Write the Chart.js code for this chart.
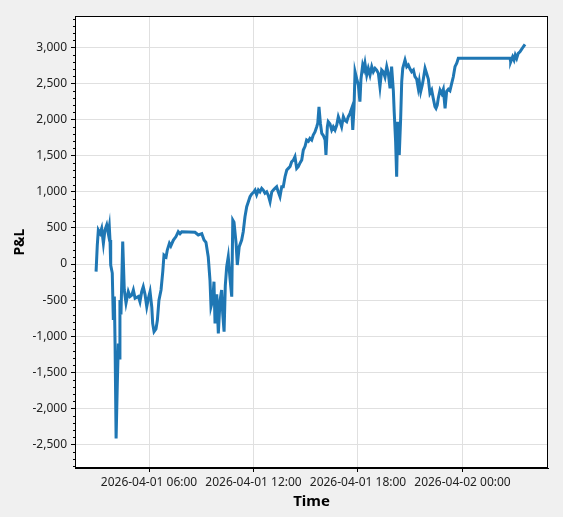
<!DOCTYPE html>
<html>
<head>
<meta charset="utf-8">
<script src="https://cdn.jsdelivr.net/npm/chart.js@4/dist/chart.umd.min.js"></script>
<style>
  html, body { margin: 0; padding: 0; background: #f0f0f0; }
  canvas { display: block; }
</style>
</head>
<body>
<canvas id="pnl-chart" width="563" height="517"></canvas>
<script>
// hours since 2026-04-01 00:00
const timeHours = [
  2.96, 3.03, 3.09, 3.19, 3.28, 3.38, 3.47, 3.57, 3.66, 3.72, 3.76, 3.80, 3.89, 3.95, 4.01, 4.05, 4.11, 4.18, 4.24, 4.29,
  4.33, 4.39, 4.49, 4.58, 4.68, 4.81, 4.91, 5.01, 5.10, 5.20, 5.39, 5.48, 5.58, 5.67, 5.77, 5.87, 5.96, 6.06, 6.16, 6.21,
  6.29, 6.40, 6.48, 6.57, 6.69, 6.79, 6.86, 6.98, 7.05, 7.17, 7.25, 7.40, 7.55, 7.68, 7.78, 7.88, 8.64, 8.83, 9.03, 9.16,
  9.27, 9.40, 9.50, 9.56, 9.66, 9.73, 9.79, 9.89, 9.98, 10.08, 10.17, 10.23, 10.31, 10.38, 10.46, 10.55, 10.65, 10.75, 10.81, 10.88,
  11.00, 11.07, 11.18, 11.32, 11.41, 11.51, 11.61, 11.70, 11.80, 11.90, 11.99, 12.09, 12.18, 12.28, 12.37, 12.47, 12.56, 12.66, 12.76, 12.85,
  12.95, 13.05, 13.14, 13.23, 13.33, 13.42, 13.52, 13.62, 13.71, 13.81, 13.91, 14.00, 14.10, 14.19, 14.29, 14.38, 14.48, 14.57, 14.67, 14.77,
  14.86, 14.96, 15.05, 15.15, 15.24, 15.34, 15.43, 15.53, 15.63, 15.69, 15.76, 15.84, 15.92, 16.01, 16.11, 16.16, 16.24, 16.29, 16.39, 16.49,
  16.58, 16.68, 16.78, 16.87, 16.97, 17.06, 17.16, 17.25, 17.35, 17.44, 17.54, 17.64, 17.70, 17.77, 17.83, 17.93, 18.02, 18.11, 18.17, 18.27,
  18.34, 18.40, 18.50, 18.59, 18.69, 18.79, 18.88, 18.98, 19.07, 19.17, 19.26, 19.36, 19.45, 19.55, 19.65, 19.74, 19.84, 19.93, 20.03, 20.08,
  20.16, 20.22, 20.28, 20.37, 20.45, 20.51, 20.57, 20.70, 20.80, 20.89, 20.99, 21.08, 21.18, 21.27, 21.37, 21.46, 21.52, 21.60, 21.69, 21.75,
  21.85, 21.94, 22.04, 22.13, 22.23, 22.32, 22.42, 22.48, 22.55, 22.61, 22.71, 22.81, 22.90, 23.00, 23.09, 23.19, 23.28, 23.38, 23.47, 23.57,
  23.67, 23.76, 26.73, 26.77, 26.88, 26.96, 27.03, 27.11, 27.20, 27.30, 27.40, 27.49, 27.59
];
const pnl = [
  -106, 263, 470, 425, 494, 286, 470, 540, 425, 517, 332, -14, -125, -775, -450, -1100, -2415, -1650, -1100, -1300,
  -500, -700, 310, -360, -540, -383, -450, -430, -360, -475, -450, -522, -383, -314, -420, -591, -480, -383, -600, -822,
  -937, -900, -780, -500, -360, -106, 125, 100, 194, 286, 250, 332, 380, 448, 420, 448, 440, 402, 420, 332,
  300, 101, -222, -591, -500, -245, -822, -420, -960, -500, -360, -680, -937, -300, -37, 100, -200, -453, 610, 580,
  286, -14, 240, 332, 448, 655, 794, 860, 932, 970, 990, 1025, 960, 1025, 1000, 1048, 1025, 980, 1000, 950,
  863, 1000, 1025, 1048, 1071, 1000, 932, 1071, 1071, 1209, 1302, 1325, 1350, 1417, 1440, 1486, 1325, 1350, 1400, 1440,
  1579, 1630, 1717, 1700, 1740, 1717, 1787, 1830, 1902, 1950, 2178, 1950, 1810, 1780, 1720, 1510, 1900, 1971, 1940, 1856,
  1900, 1856, 1925, 2040, 1971, 1902, 2040, 1990, 1970, 2040, 2087, 2156, 1856, 2156, 2663, 2560, 2479, 2248, 2560, 2756,
  2700, 2780, 2618, 2710, 2618, 2733, 2663, 2710, 2687, 2640, 2456, 2687, 2663, 2590, 2733, 2640, 2433, 2733, 2400, 2100,
  1694, 1209, 1971, 1510, 2018, 2525, 2710, 2825, 2733, 2756, 2700, 2663, 2687, 2594, 2560, 2433, 2525, 2387, 2480, 2560,
  2710, 2640, 2560, 2364, 2410, 2295, 2179, 2156, 2200, 2295, 2410, 2360, 2420, 2156, 2390, 2420, 2400, 2502, 2590, 2733,
  2780, 2849, 2849, 2800, 2870, 2825, 2895, 2849, 2918, 2940, 2975, 3009, 3043
];
const xTickHours = [6, 12, 18, 24];
const xTickLabels = ['2026-04-01 06:00', '2026-04-01 12:00', '2026-04-01 18:00', '2026-04-02 00:00'];
const yTickValues = [-2500, -2000, -1500, -1000, -500, 0, 500, 1000, 1500, 2000, 2500, 3000];

// 繪圖區外框、白底與 y 軸小刻度
const framePlugin = {
  id: 'frame',
  beforeDraw(chart) {
    const a = chart.chartArea, c = chart.ctx;
    c.save();
    c.fillStyle = '#ffffff';
    c.fillRect(a.left, a.top, a.right - a.left, a.bottom - a.top);
    c.restore();
  },
  afterDraw(chart) {
    const a = chart.chartArea, c = chart.ctx, y = chart.scales.y;
    c.save();
    c.strokeStyle = '#000';
    c.lineWidth = 1;
    c.beginPath();
    for (let v = Math.ceil(y.min / 100) * 100; v <= y.max; v += 100) {
      if (v % 500 === 0) continue;
      const py = Math.round(y.getPixelForValue(v)) + 0.5;
      c.moveTo(a.left - 2, py);
      c.lineTo(a.left, py);
    }
    c.stroke();
    c.strokeRect(Math.round(a.left) + 0.5, Math.round(a.top) + 0.5,
      Math.round(a.right - a.left) - 1, Math.round(a.bottom - a.top) - 1);
    c.restore();
  }
};

const ctx = document.getElementById('pnl-chart').getContext('2d');
new Chart(ctx, {
  type: 'line',
  data: {
    datasets: [{
      label: 'P&L',
      data: timeHours.map((h, i) => ({ x: h, y: pnl[i] })),
      borderColor: '#1f77b4',
      borderWidth: 3,
      pointRadius: 0,
      tension: 0,
      fill: false
    }]
  },
  options: {
    responsive: false,
    animation: false,
    layout: { padding: { left: 0, top: 16, right: 15, bottom: 0 } },
    plugins: { legend: { display: false }, tooltip: { enabled: false } },
    scales: {
      x: {
        type: 'linear',
        min: 1.75,
        max: 28.91,
        afterFit(scale) { scale.height = 49; },
        afterBuildTicks(scale) { scale.ticks = xTickHours.map(v => ({ value: v })); },
        grid: { color: '#e0e0e0', tickColor: '#000', tickLength: 4 },
        border: { color: '#000' },
        ticks: {
          autoSkip: false,
          maxRotation: 0,
          padding: 3,
          color: '#222',
          font: { family: 'Noto Sans', size: 12 },
          callback: (v) => xTickLabels[xTickHours.indexOf(v)] || ''
        },
        title: {
          display: true,
          text: 'Time',
          color: '#000',
          font: { family: 'Noto Sans', size: 15, weight: 'bold' },
          padding: { top: 4, bottom: 6 }
        }
      },
      y: {
        min: -2825,
        max: 3435,
        afterFit(scale) { scale.width = 75; },
        afterBuildTicks(scale) { scale.ticks = yTickValues.map(v => ({ value: v })); },
        grid: { color: '#e0e0e0', tickColor: '#000', tickLength: 4 },
        border: { color: '#000' },
        ticks: {
          autoSkip: false,
          padding: 4,
          color: '#222',
          font: { family: 'Noto Sans', size: 12 },
          callback: (v) => v.toLocaleString('en-US')
        },
        title: {
          display: true,
          text: 'P&L',
          color: '#000',
          font: { family: 'Noto Sans', size: 14, weight: 'bold' },
          padding: { top: 12, bottom: 4 }
        }
      }
    }
  },
  plugins: [framePlugin]
});
</script>
</body>
</html>
